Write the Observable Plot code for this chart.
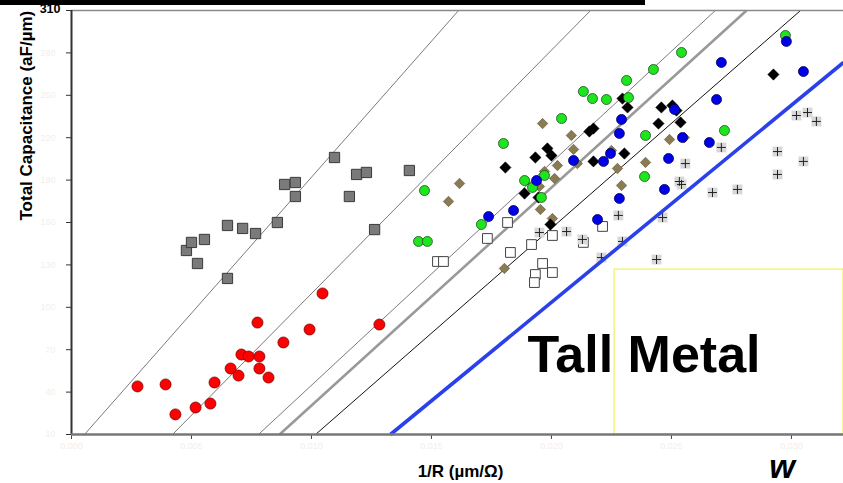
<!DOCTYPE html>
<html><head><meta charset="utf-8">
<script src="https://cdn.jsdelivr.net/npm/d3@7"></script>
<script src="https://cdn.jsdelivr.net/npm/@observablehq/plot@0.6"></script>
<style>
html,body{margin:0;padding:0;background:#fff;}
#wrap{position:relative;width:843px;height:483px;overflow:hidden;}
#bar{position:absolute;left:0;top:0;width:645px;height:5px;background:#000;}
svg{display:block;}
</style></head><body>
<div id="wrap"><div id="chart"></div><div id="bar"></div></div>
<script>
// x in units of 1e-3 µm/Ω, y in aF/µm
const xTicks = [0, 5, 10, 15, 20, 25, 30];
const yTicks = [10, 40, 70, 100, 130, 160, 190, 220, 250, 280, 310];

const graySquares = [[4.79,140.2],[5.00,145.9],[5.25,131.0],[5.54,148.0],[6.50,157.9],[6.50,120.4],[7.13,155.8],[7.67,152.2],[8.58,160.0],[8.88,186.9],[9.33,188.3],[9.33,178.4],[10.96,206.0],[11.88,194.0],[12.29,195.4],[11.58,178.4],[12.63,155.0],[14.08,196.8]];
const redCircles = [[2.75,44.0],[3.92,45.4],[4.33,24.2],[5.17,29.1],[5.79,31.9],[5.96,46.8],[6.63,56.7],[6.96,51.7],[7.08,66.6],[7.38,65.2],[7.83,65.2],[7.83,56.7],[8.21,50.3],[7.75,89.2],[8.83,75.1],[9.92,84.3],[10.46,109.8],[12.83,87.8]];
const greenCircles = [[14.71,182.6],[14.46,146.6],[14.83,146.6],[17.08,158.6],[18.00,215.9],[18.88,189.7],[19.21,184.8],[19.58,177.7],[19.71,193.3],[20.42,233.6],[21.33,252.7],[21.71,247.7],[22.29,247.0],[23.13,260.5],[23.21,248.4],[24.25,268.3],[25.42,280.3],[23.92,221.6],[23.88,192.5],[27.21,225.1],[29.75,292.3]];
const blueCircles = [[17.38,164.2],[18.42,168.5],[19.38,189.7],[20.92,203.9],[22.17,203.2],[22.46,208.8],[22.83,223.0],[22.92,232.9],[22.83,177.0],[21.92,162.1],[24.71,183.4],[24.88,205.3],[25.13,240.0],[25.46,220.1],[26.58,216.6],[26.88,247.0],[27.08,273.2],[29.79,288.1],[30.50,266.8]];
const blackDiamonds = [[18.08,198.9],[19.33,206.0],[19.83,212.4],[20.00,207.4],[18.88,180.5],[19.46,177.7],[19.96,158.6],[21.58,224.4],[21.75,226.5],[21.75,203.2],[22.96,247.7],[23.17,241.4],[23.04,208.8],[24.46,230.0],[24.58,241.4],[25.04,242.8],[25.21,239.2],[25.38,230.8],[29.25,264.7]];
const oliveDiamonds = [[15.71,174.9],[16.17,187.6],[19.63,230.0],[20.83,221.6],[20.92,211.7],[20.25,200.3],[21.08,201.7],[19.71,196.1],[20.13,191.1],[19.50,185.5],[19.54,169.2],[20.04,162.8],[18.04,127.5],[22.50,210.9],[22.75,198.2],[22.92,186.2],[23.92,202.5],[24.92,218.7],[25.54,220.1]];
const whiteSquares = [[15.25,132.4],[15.50,132.4],[17.33,148.7],[18.17,160.0],[18.29,138.8],[19.17,144.4],[19.63,131.0],[20.04,150.8],[20.04,124.6],[19.33,123.2],[19.29,117.5],[21.33,145.9],[22.13,157.2]];
const crosses = [[19.50,152.9],[20.63,153.6],[21.29,148.0],[22.79,165.0],[22.96,146.6],[22.08,135.2],[24.63,163.5],[24.38,133.8],[25.33,189.0],[25.42,186.9],[25.58,201.7],[26.71,181.2],[27.75,183.4],[27.08,213.1],[29.42,210.2],[29.42,194.0],[30.50,203.2],[30.21,235.7],[30.67,237.8],[31.04,231.5]];

// reference lines: x where each line meets y = 10 and y = 310
const refBottomX = [0.54, 4.21, 7.79, 8.67, 10.17];
const refTopX = [16.13, 21.63, 26.83, 28.13, 30.38];
const blueLineX = [13.29, 32.17];
const blueLineY = [10, 273.2];
const legendBox = [{x1: 22.63, x2: 32.17, y1: 10, y2: 126.7}];

const refStroke = ["#7a7a7a", "#7a7a7a", "#7a7a7a", "#999", "#111"];
const refWidth = [1, 1, 1, 2.6, 1];
const refLines = refBottomX.map((b, i) => ({x1: b, y1: 10, x2: refTopX[i], y2: 310, i}));
const blueLine = [{x1: blueLineX[0], y1: blueLineY[0], x2: blueLineX[1], y2: blueLineY[1]}];

const faint = "#f5eee8";
const X = d => d[0], Y = d => d[1];

const chart = Plot.plot({
  width: 843, height: 483,
  marginTop: 10, marginBottom: 49, marginLeft: 71, marginRight: 0,
  style: {fontFamily: "'Liberation Sans', Arial, sans-serif", fontSize: "9px", background: "white"},
  x: {domain: [0, 32.17], axis: null},
  y: {domain: [10, 310], axis: null},
  marks: [
    Plot.rect(legendBox, {x1: "x1", x2: "x2", y1: "y1", y2: "y2", fill: "none", stroke: "#eded3a", strokeWidth: 1}),
    Plot.link(refLines, {x1: "x1", y1: "y1", x2: "x2", y2: "y2", stroke: d => refStroke[d.i], strokeWidth: d => refWidth[d.i]}),
    Plot.axisY(yTicks, {anchor: "left", tickSize: 5, tickPadding: 11, stroke: "#333", fill: faint, label: null,
      tickFormat: d => d === 310 ? "" : String(d)}),
    Plot.axisX(xTicks, {anchor: "bottom", tickSize: 5, tickPadding: 3, stroke: "#444", fill: faint, label: null,
      tickFormat: d => (d / 1000).toFixed(3)}),
    Plot.ruleY([310], {stroke: "#8a8a8a", strokeWidth: 1.5}),
    Plot.dot(graySquares, {x: X, y: Y, symbol: "square", r: 5.8, fill: "#7a7a7a", stroke: "#3a3a3a", strokeWidth: 1}),
    Plot.dot(redCircles, {x: X, y: Y, r: 5.5, fill: "#ff0000", stroke: "#7a0000", strokeWidth: 0.8}),
    Plot.dot(whiteSquares, {x: X, y: Y, symbol: "square", r: 5.5, fill: "white", stroke: "#444", strokeWidth: 1}),
    Plot.dot(crosses, {x: X, y: Y, symbol: "square", r: 5.6, fill: "#d8d8d8"}),
    Plot.dot(crosses, {x: X, y: Y, symbol: "plus", r: 3, stroke: "#222", strokeWidth: 1}),
    Plot.dot(oliveDiamonds, {x: X, y: Y, symbol: "diamond2", r: 4.7, fill: "#8a7b52", stroke: "#5e5235", strokeWidth: 0.6}),
    Plot.dot(blackDiamonds, {x: X, y: Y, symbol: "diamond2", r: 5.1, fill: "#000", stroke: "#000", strokeWidth: 0.5}),
    Plot.dot(greenCircles, {x: X, y: Y, r: 5, fill: "#1ee61e", stroke: "#1d4d1d", strokeWidth: 0.8}),
    Plot.dot(blueCircles, {x: X, y: Y, r: 5, fill: "#0000e6", stroke: "#00005a", strokeWidth: 0.8}),
    Plot.link(blueLine, {x1: "x1", y1: "y1", x2: "x2", y2: "y2", stroke: "#2a40ea", strokeWidth: 3.6}),
    Plot.ruleX([0], {stroke: "#333", strokeWidth: 2}),
    Plot.ruleY([10], {stroke: "#777", strokeWidth: 2.5}),
    Plot.text([310], {y: d => d, frameAnchor: "left", dx: -11, dy: 2, textAnchor: "end", lineAnchor: "bottom",
      text: d => String(d), fontWeight: "bold", fontSize: 12.5, fill: "#000"}),
    Plot.text(["Tall Metal"], {x: [19.0], y: [53.9], textAnchor: "start", lineAnchor: "bottom",
      fontWeight: "bold", fontSize: 52, fill: "#000"}),
    Plot.text(["1/R (µm/Ω)"], {frameAnchor: "bottom", dx: 3, dy: 42, lineAnchor: "bottom",
      fontWeight: "bold", fontSize: 17, fill: "#000"}),
    Plot.text(["Total Capacitance (aF/µm)"], {frameAnchor: "left", dx: -45, dy: -2, rotate: -90,
      fontWeight: "bold", fontSize: 17, fill: "#000"}),
    Plot.text(["w"], {x: [29.08], frameAnchor: "bottom", dy: 43, textAnchor: "start", lineAnchor: "bottom",
      fontWeight: 900, fontStyle: "italic", fontSize: 33, fill: "#000"})
  ]
});
document.getElementById("chart").appendChild(chart);
</script>
</body></html>
